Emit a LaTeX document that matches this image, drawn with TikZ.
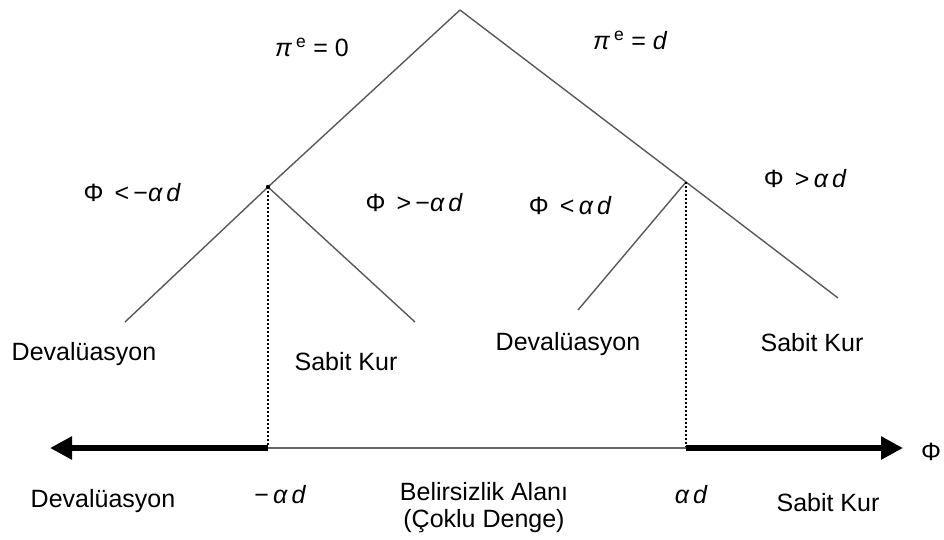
\documentclass[tikz,border=0pt]{standalone}
\usepackage{fontspec}
\setmainfont{Liberation Sans}
\usetikzlibrary{arrows.meta}
\newcommand{\figfont}{\fontsize{25}{27}\selectfont}
\tikzset{
  fig/.style={font=\figfont},
  lbl/.style={font=\figfont,inner sep=1pt,align=center},
  br/.style={draw=black!65,line width=1.4pt},
  guide/.style={dash pattern=on 2pt off 2pt,line width=2.6pt},
  axthick/.style={line width=6pt,-{Triangle[length=22pt,width=22pt]}},
  axthin/.style={draw=black!60,line width=1.8pt},
}

\begin{document}
\begin{tikzpicture}[fig,x=1pt,y=-1pt]
\useasboundingbox (0,0) rectangle (944,539);

% tree
\coordinate (top) at (460,10);
\coordinate (lnode) at (268,187);
\coordinate (rnode) at (686,182);
\coordinate (ll) at (125,322);
\coordinate (lr) at (415,322);
\coordinate (rl) at (578,310);
\coordinate (rr) at (838,298);

\draw[br] (top) -- (lnode) -- (ll);
\draw[br] (lnode) -- (lr);
\draw[br] (top) -- (rnode) -- (rr);
\draw[br] (rnode) -- (rl);
\fill (lnode) circle (2.2pt);

% axis
\coordinate (la) at (268,448);
\coordinate (ra) at (686,448);
\coordinate (lend) at (50,448);
\coordinate (rend) at (903,448);

\draw[guide] (lnode) -- (la);
\draw[guide] (rnode) -- (ra);
\draw[axthin] (la) -- (ra);
\draw[axthick] (la) -- (lend);
\draw[axthick] (ra) -- (rend);
\node[lbl] (phi) at (931,452) {Φ};

% branch labels
\node[lbl] (pz) at (312,47) {{\itshape π}\,\textsuperscript{e} = 0};
\node[lbl] (pd) at (630,40) {{\itshape π}\,\textsuperscript{e} = {\itshape d}};
\node[lbl] (c1) at (132,193) {Φ \,<\,−{\itshape α\,d}};
\node[lbl] (c2) at (414,203) {Φ \,>\,−{\itshape α\,d}};
\node[lbl] (c3) at (570,206) {Φ \,<\,{\itshape α\,d}};
\node[lbl] (c4) at (805,179) {Φ \,>\,{\itshape α\,d}};

% outcomes
\node[lbl] (o1) at (84,354) {Devalüasyon};
\node[lbl] (o2) at (346,362) {Sabit Kur};
\node[lbl] (o3) at (568,344) {Devalüasyon};
\node[lbl] (o4) at (812,343) {Sabit Kur};

% regions
\node[lbl] (r1) at (103,501) {Devalüasyon};
\node[lbl] (r2) at (280,495) {−\,{\itshape α\,d}};
\node[lbl] (r3) at (484,508) {Belirsizlik Alanı\\(Çoklu Denge)};
\node[lbl] (r4) at (691,495) {{\itshape α\,d}};
\node[lbl] (r5) at (828,503) {Sabit Kur};
\end{tikzpicture}
\end{document}
